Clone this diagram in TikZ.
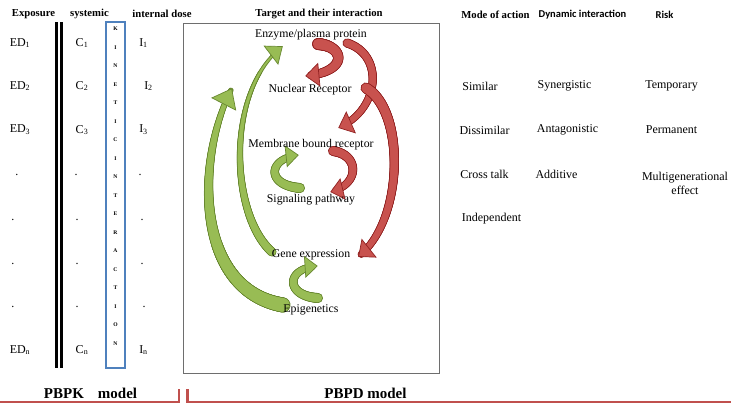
\documentclass[tikz,border=0pt]{standalone}
\usepackage{fontspec}
\setmainfont{Liberation Serif}
\newfontfamily\calsans{Carlito}
\usetikzlibrary{arrows.meta,backgrounds,decorations.markings}

\definecolor{grnL}{RGB}{152,188,84}
\definecolor{grnD}{RGB}{104,136,48}
\definecolor{redL}{RGB}{200,82,78}
\definecolor{redD}{RGB}{146,34,34}
\definecolor{boxblue}{RGB}{79,129,189}
\definecolor{brk}{RGB}{192,80,77}
\definecolor{frame}{RGB}{110,110,110}

% a tapering ribbon: colour, width at the tail, width at the head, inset
\tikzset{
  ribbon/.style n args={4}{preaction={decorate, decoration={markings,
    mark=between positions 0 and -6pt step 0.4pt with {%
      \pgfmathsetmacro\ribr{max(0.3,(#2+(#3-#2)*\pgfkeysvalueof{/pgf/decoration/mark info/distance from start}/\pgfdecoratedpathlength)/2-#4)}%
      \fill[#1] (0,0) circle[radius=\ribr pt];}}}},
  ribhead/.style n args={4}{postaction={decorate, decoration={markings,
    mark=at position -0.3pt with {\arrow[line width=0.7pt]{Triangle[length=#3pt,width=#4pt,color=#1,fill=#2]}}}}},
  % curved block arrow: dark, light, tail width, head-side width, head length, head width
  blockarrow/.style n args={6}{line width=0.7pt,
    ribbon={#1}{#3}{#4}{0}, ribbon={#2}{#3}{#4}{0.9}, ribhead={#1}{#2}{#5}{#6}},
}

\begin{document}
\begin{tikzpicture}[x=1pt,y=-1pt,
  hdr/.style={font=\fontsize{10.7}{12}\selectfont\bfseries, inner sep=0pt},
  hds/.style={font=\calsans\fontsize{10.5}{12}\selectfont\bfseries, inner sep=0pt},
  lbl/.style={font=\fontsize{12}{14}\selectfont, inner sep=0pt},
  tgt/.style={font=\fontsize{11.8}{14}\selectfont, inner sep=0pt},
  ltr/.style={font=\fontsize{5.6}{6}\selectfont\bfseries, inner sep=0pt},
  model/.style={font=\fontsize{15}{17}\selectfont\bfseries, inner sep=0pt},
]
\useasboundingbox (0,0) rectangle (731,405);

% column headers
\node[hdr] (hExp) at (33.5,14) {Exposure};
\node[hdr] (hSys) at (89.5,14) {systemic};
\node[hdr] (hInt) at (162,14) {internal dose};
\node[hdr] (hTgt) at (319,14) {Target and their interaction};
\node[hdr] (hMode) at (495.5,15) {Mode of action};
\node[hds] (hDyn) at (582.5,15) {Dynamic interaction};
\node[hds] (hRisk) at (664.5,15) {Risk};

% exposure column
\node[lbl] (ed1) at (20,43) {ED\textsubscript{1}};
\node[lbl] (ed2) at (20,86) {ED\textsubscript{2}};
\node[lbl] (ed3) at (20,130) {ED\textsubscript{3}};
\node[lbl] (edd1) at (17,175) {.};
\node[lbl] (edd2) at (13,220) {.};
\node[lbl] (edd3) at (13,264) {.};
\node[lbl] (edd4) at (13,307) {.};
\node[lbl] (edn) at (20,350) {ED\textsubscript{n}};

% double separator
\draw[line width=2.6pt] (56.5,22) -- (56.5,368);
\draw[line width=2.6pt] (61.5,22) -- (61.5,368);

% systemic column
\node[lbl] (c1) at (82,43) {C\textsubscript{1}};
\node[lbl] (c2) at (82,86) {C\textsubscript{2}};
\node[lbl] (c3) at (82,130) {C\textsubscript{3}};
\node[lbl] (cd1) at (76,175) {.};
\node[lbl] (cd2) at (77,220) {.};
\node[lbl] (cd3) at (77,264) {.};
\node[lbl] (cd4) at (77,307) {.};
\node[lbl] (cn) at (82,350) {C\textsubscript{n}};

% kinetic interaction box
\draw[boxblue, line width=1.4pt] (106,22) rectangle (125,368);
\foreach \L [count=\i from 0] in {K,I,N,E,T,I,C,I,N,T,E,R,A,C,T,I,O,N}
  \node[ltr] (k\i) at (115.5,29+18.5*\i) {\L};

% internal dose column
\node[lbl] (i1) at (143.5,43) {I\textsubscript{1}};
\node[lbl] (i2) at (148.5,86) {I\textsubscript{2}};
\node[lbl] (i3) at (143.5,130) {I\textsubscript{3}};
\node[lbl] (id1) at (140,175) {.};
\node[lbl] (id2) at (142,220) {.};
\node[lbl] (id3) at (142,264) {.};
\node[lbl] (id4) at (144,307) {.};
\node[lbl] (in) at (143.5,350) {I\textsubscript{n}};

% target panel
\draw[frame, line width=0.9pt] (183,23) rectangle (439,373);
\node[tgt] (enz) at (311,35) {Enzyme/plasma protein};
\node[tgt] (nuc) at (310,90) {Nuclear Receptor};
\node[tgt] (mem) at (311,145) {Membrane bound receptor};
\node[tgt] (sig) at (311,200) {Signaling pathway};
\node[tgt] (gene) at (311,255) {Gene expression};
\node[tgt] (epi) at (311,310) {Epigenetics};

\begin{scope}[on background layer]
  \fill[white] (0,0) rectangle (731,405);
  % downstream links
  \path[blockarrow={redD}{redL}{12}{8}{14}{24}]
    ([shift={(7,9)}]enz.center) .. controls +(27,2) and +(44,-4) .. ([shift={(-5,-14)}]nuc.center);
  \path[blockarrow={redD}{redL}{9}{7}{14}{24}]
    ([shift={(36,8)}]enz.center) .. controls +(38,12) and +(42,-18) .. ([shift={(27,-17)}]mem.center);
  \path[blockarrow={redD}{redL}{11}{7}{14}{24}]
    ([shift={(56,-2)}]nuc.center) .. controls +(39,22) and +(47,-37) .. ([shift={(47,2)}]gene.center);
  \path[blockarrow={redD}{redL}{10}{7}{13}{22}]
    ([shift={(22,6)}]mem.center) .. controls +(27,4) and +(30,-7) .. ([shift={(19,-8)}]sig.center);
  % feedback links
  \path[blockarrow={grnD}{grnL}{10}{7}{13}{22}]
    ([shift={(-11,-12)}]sig.center) .. controls +(-35,-3) and +(-31,3) .. ([shift={(-12,10)}]mem.center);
  \path[blockarrow={grnD}{grnL}{9}{3}{15}{24}]
    ([shift={(-39,-3)}]gene.center) .. controls +(-42,-37) and +(-58,44) .. ([shift={(-28,11)}]enz.center);
  \path[blockarrow={grnD}{grnL}{15}{5}{18}{28}]
    ([shift={(-28,-5)}]epi.center) .. controls +(-88,-15) and +(-37,72) .. ([shift={(-78,-2)}]nuc.center);
  \path[blockarrow={grnD}{grnL}{10}{7}{13}{22}]
    ([shift={(7,-12)}]epi.center) .. controls +(-33,-2) and +(-33,2) .. ([shift={(7,11)}]gene.center);
\end{scope}

% mode of action
\node[lbl] (mSim) at (480,86) {Similar};
\node[lbl] (mDis) at (484.5,130) {Dissimilar};
\node[lbl] (mCross) at (484.5,174) {Cross talk};
\node[lbl] (mInd) at (491.5,219) {Independent};

% dynamic interaction
\node[lbl] (dSyn) at (564.5,86) {Synergistic};
\node[lbl] (dAnt) at (567.5,130) {Antagonistic};
\node[lbl] (dAdd) at (556.5,174) {Additive};

% risk
\node[lbl] (rTmp) at (671.5,86) {Temporary};
\node[lbl] (rPer) at (671.5,130) {Permanent};
\node[lbl, align=center] (rMul) at (685,183) {Multigenerational\\effect};

% model brackets
\draw[brk, line width=2.4pt] (0,402) -- (179,402) -- (179,389);
\draw[brk, line width=2.4pt] (187.5,389) -- (187.5,402) -- (731,402);
\node[model] (pbpk) at (90.5,393) {PBPK\hspace{14pt}model};
\node[model] (pbpd) at (365.5,393) {PBPD model};
\end{tikzpicture}
\end{document}
